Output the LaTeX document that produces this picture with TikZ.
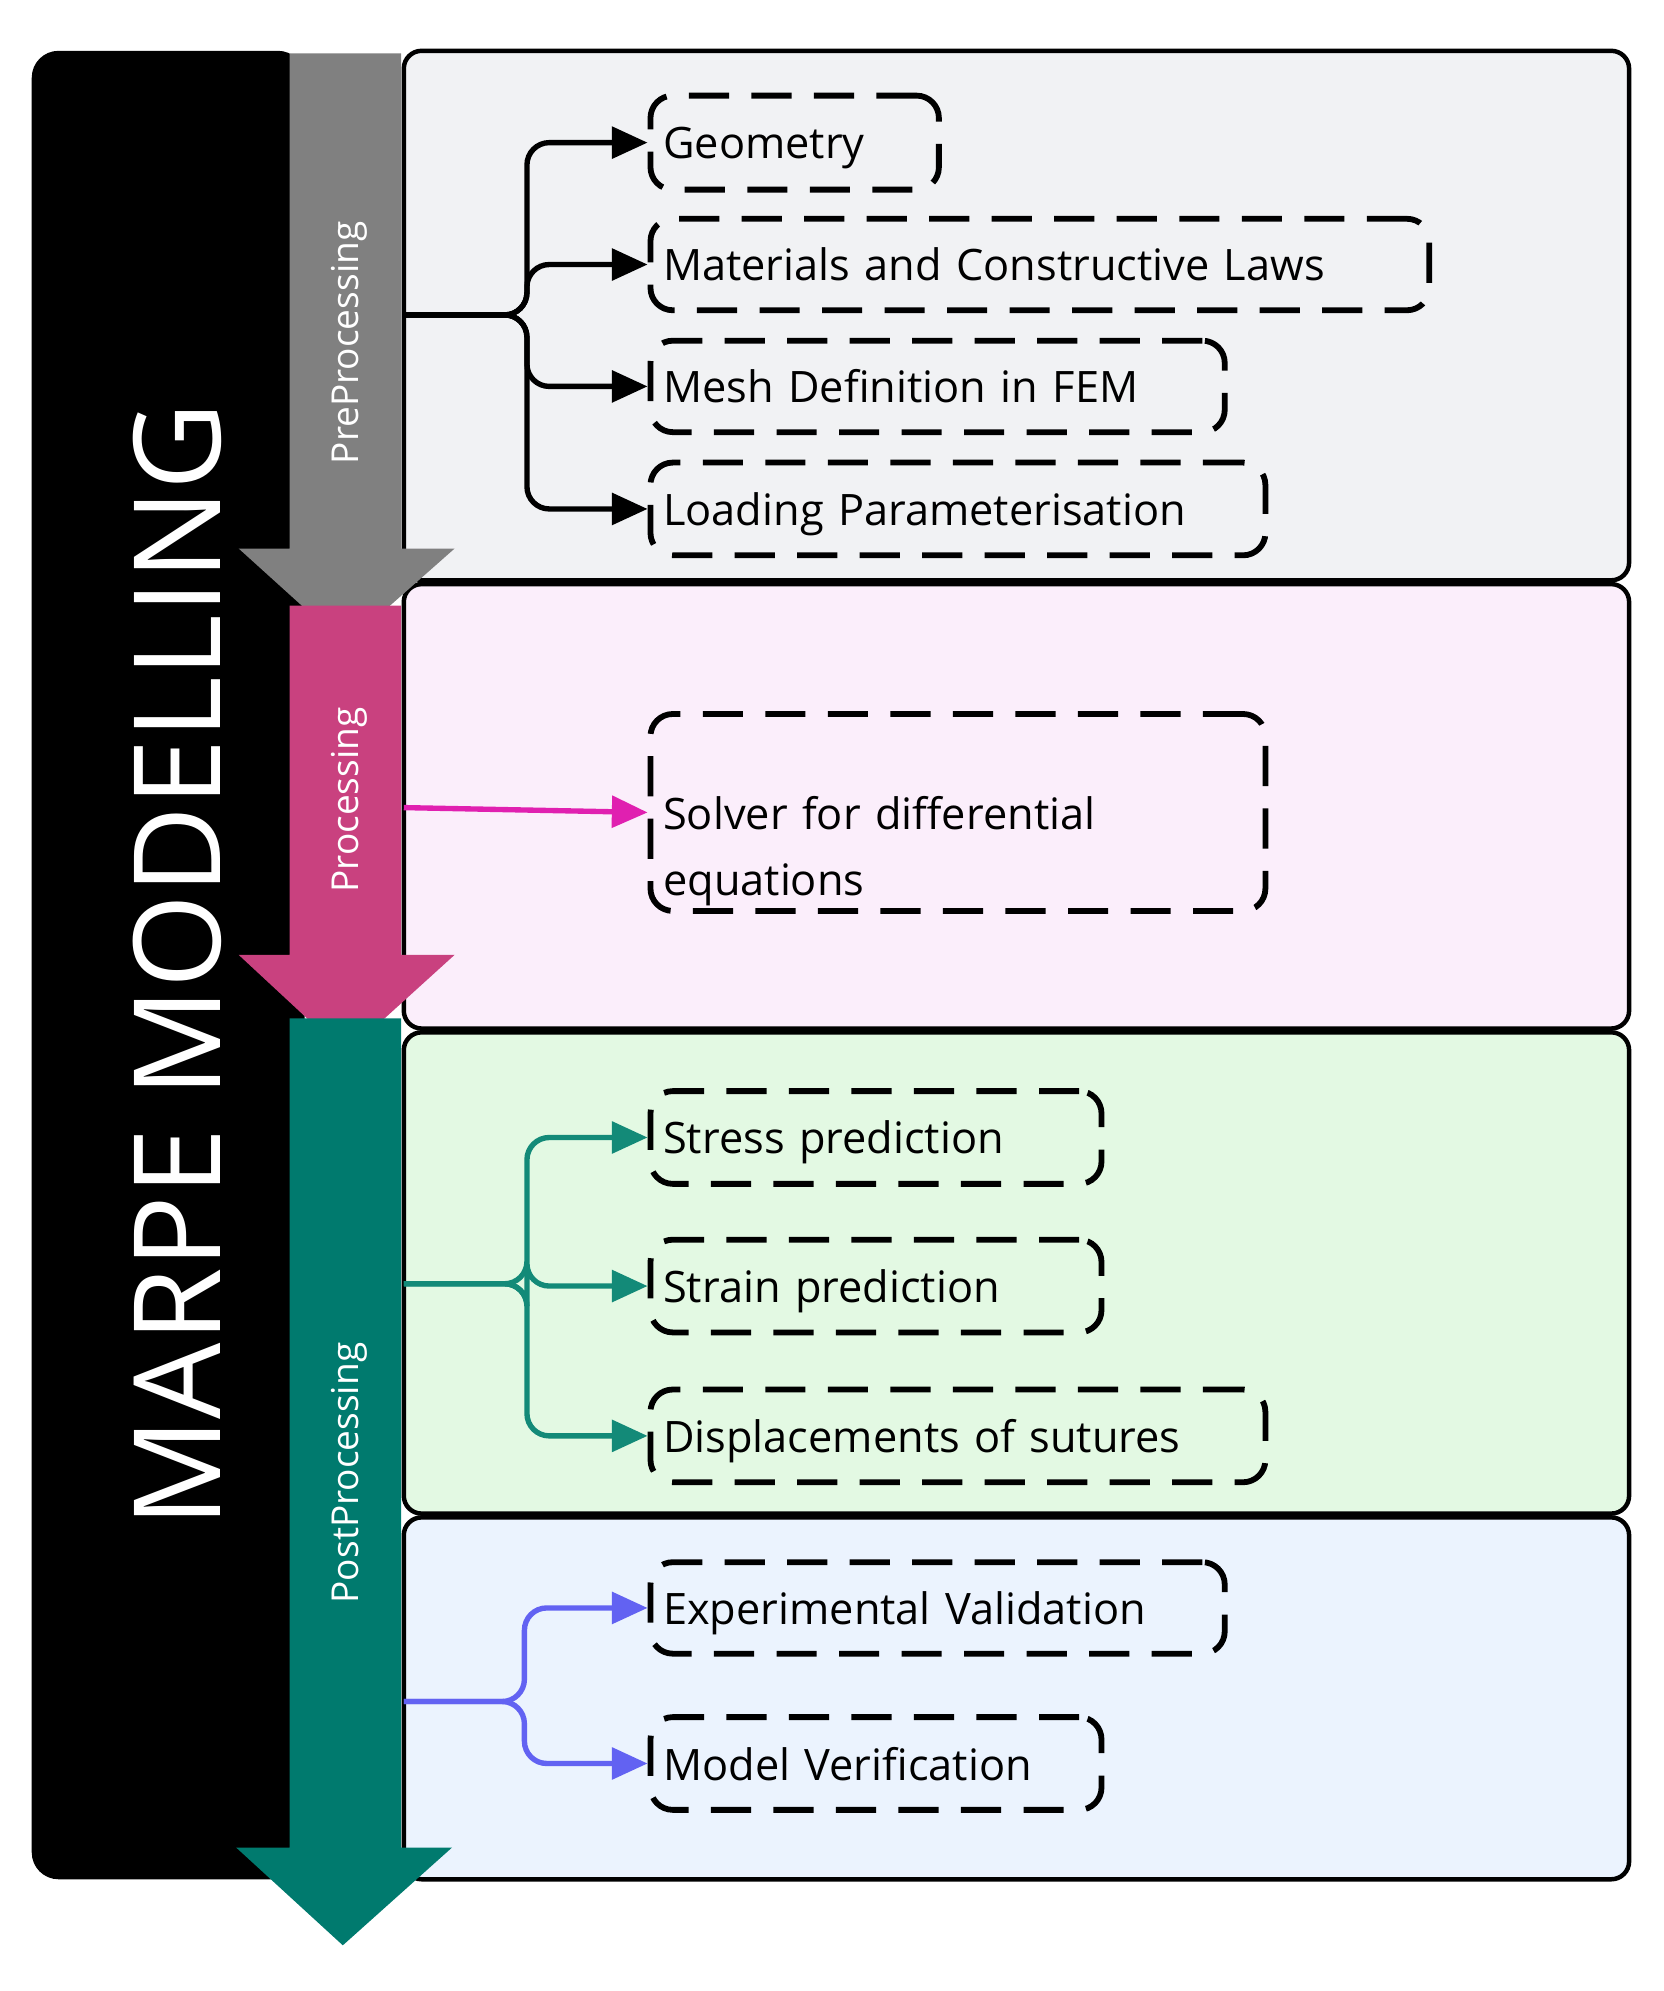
\documentclass[tikz,border=0pt]{standalone}
\usepackage{fontspec}
\setmainfont{Open Sans}
\usetikzlibrary{arrows.meta}
\definecolor{pgray}{HTML}{F1F2F4}
\definecolor{ppink}{HTML}{FBEEFB}
\definecolor{pgreen}{HTML}{E3F9E3}
\definecolor{pblue}{HTML}{EBF3FE}
\definecolor{agray}{HTML}{808080}
\definecolor{apink}{HTML}{C9417F}
\definecolor{ateal}{HTML}{007A6E}
\definecolor{cmag}{HTML}{E020B0}
\definecolor{cteal}{HTML}{138A78}
\definecolor{cblue}{HTML}{6262F2}
\begin{document}
\begin{tikzpicture}[x=0.01cm,y=-0.01cm,
  panel/.style={draw=black,line width=1pt,rounded corners=4pt},
  box/.style={draw=black,line width=1.3pt,dash pattern=on 9pt off 5pt,rounded corners=5pt,anchor=north west,inner sep=0pt,align=left,font=\fontsize{9.7}{15}\selectfont,text depth=0pt},
  conn/.style={line width=1.2pt,rounded corners=5pt,-{Triangle[length=8pt,width=7pt]}},
  vlab/.style={rotate=90,text=white,font=\fontsize{8.3}{10}\selectfont}]
\useasboundingbox (0,0) rectangle (1310,1568);
\fill[black,rounded corners=6pt] (25,40) rectangle (240,1480);
\node[rotate=90,text=white,font=\fontsize{27}{30}\selectfont] (title) at (140,760) {MARPE MODELLING};
\draw[panel,fill=pgray] (318,40) rectangle (1283,457);
\draw[panel,fill=ppink] (318,460) rectangle (1283,810);
\draw[panel,fill=pgreen] (318,813) rectangle (1283,1192);
\draw[panel,fill=pblue] (318,1195) rectangle (1283,1480);
% arrows
\fill[agray] (228,42) -- (316,42) -- (316,432) -- (358,432) -- (272,508) -- (188,432) -- (228,432) -- cycle;
\fill[apink] (228,477) -- (316,477) -- (316,752) -- (358,752) -- (272,830) -- (188,752) -- (228,752) -- cycle;
\fill[ateal] (228,802) -- (316,802) -- (316,1455) -- (356,1455) -- (270,1532) -- (186,1455) -- (228,1455) -- cycle;
\node[vlab] (pre) at (275,270) {PreProcessing};
\node[vlab] (proc) at (275,630) {Processing};
\node[vlab] (post) at (275,1160) {PostProcessing};
% boxes
\newcommand{\bx}[6]{\node[box,minimum width=#4*0.01cm,minimum height=#5*0.01cm,text width=(#4-40)*0.01cm] (#1) at (#2,#3) {\hspace*{0.2cm}#6};}
\node[box,minimum width=2.27cm,minimum height=0.74cm,text width=2.07cm] (geo) at (510,73) {Geometry};
\node[box,minimum width=6.13cm,minimum height=0.72cm,text width=5.93cm] (mat) at (510,170) {Materials and Constructive Laws};
\node[box,minimum width=4.52cm,minimum height=0.72cm,text width=4.32cm] (mesh) at (510,266) {Mesh Definition in FEM};
\node[box,minimum width=4.84cm,minimum height=0.73cm,text width=4.64cm] (load) at (510,362) {Loading Parameterisation};
\node[box,minimum width=4.84cm,minimum height=1.55cm,text width=4.64cm,font=\fontsize{9.7}{14.8}\selectfont] (solv) at (510,560) {Solver for differential\\equations};
\node[box,minimum width=3.55cm,minimum height=0.73cm,text width=3.35cm] (stress) at (510,857) {Stress prediction};
\node[box,minimum width=3.55cm,minimum height=0.73cm,text width=3.35cm] (strain) at (510,974) {Strain prediction};
\node[box,minimum width=4.84cm,minimum height=0.73cm,text width=4.64cm] (disp) at (510,1092) {Displacements of sutures};
\node[box,minimum width=4.52cm,minimum height=0.72cm,text width=4.32cm] (exp) at (510,1228) {Experimental Validation};
\node[box,minimum width=3.55cm,minimum height=0.73cm,text width=3.35cm] (mod) at (510,1350) {Model Verification};
% text inside boxes shifted: nodes use align left with inner xsep via text width; adjust
% connectors
\coordinate (s1) at (318,248); \coordinate (j1) at (415,248);
\foreach \b in {geo,mat,mesh,load} \draw[conn] (s1) -- (j1) |- (\b.west);
\coordinate (s2) at (318,636);
\draw[conn,cmag] (s2) -- (solv.west);
\coordinate (s3) at (318,1011); \coordinate (j3) at (415,1011);
\foreach \b in {stress,strain,disp} \draw[conn,cteal] (s3) -- (j3) |- (\b.west);
\coordinate (s4) at (318,1340); \coordinate (j4) at (413,1340);
\foreach \b in {exp,mod} \draw[conn,cblue] (s4) -- (j4) |- (\b.west);
\end{tikzpicture}
\end{document}
